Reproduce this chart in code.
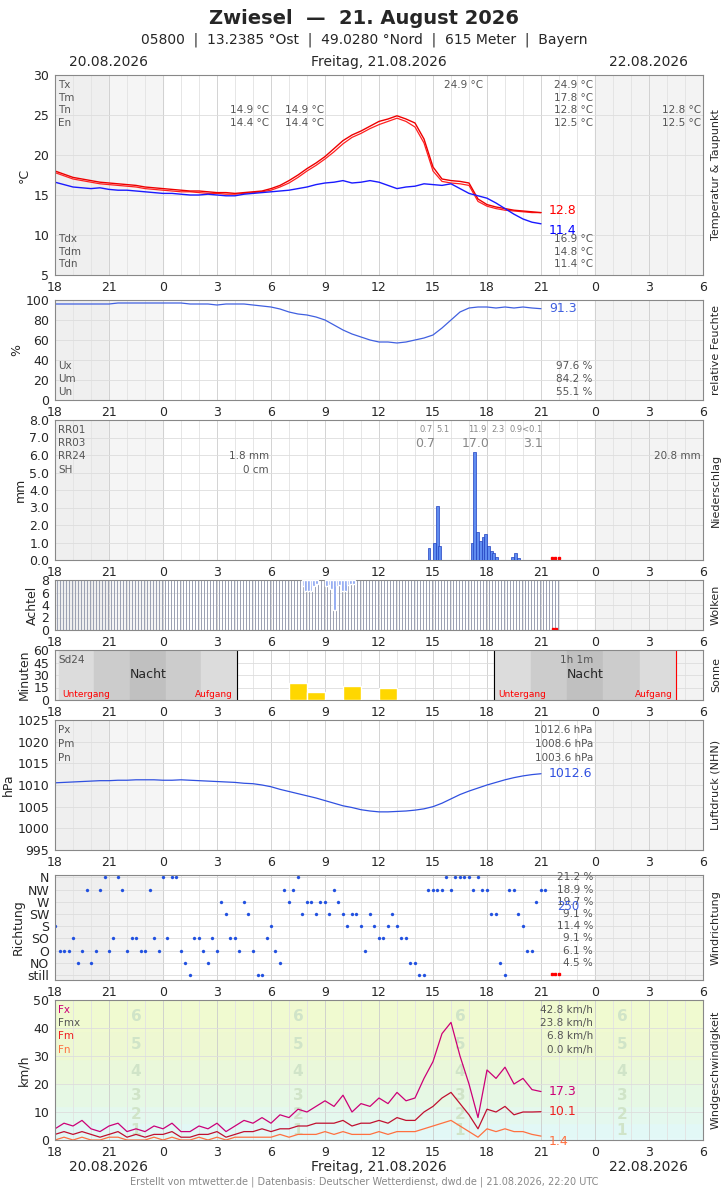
import numpy as np, pandas as pd, seaborn as sns, matplotlib
matplotlib.use("Agg")
import matplotlib.pyplot as plt

sns.set_style("white")
plt.rcParams['font.family'] = ['DejaVu Sans']

# ---------------- data (x = hours after 20.08. 18:00, 30-min steps) ----------------
temp_tx = [18.0,17.6,17.2,17.0,16.8,16.6,16.5,16.4,16.3,16.2,16.0,15.9,15.8,15.7,15.6,15.5,15.5,15.4,15.3,
           15.3,15.2,15.3,15.4,15.5,15.8,16.2,16.8,17.5,18.3,19.0,19.8,20.8,21.8,22.5,23.0,23.6,24.2,24.5,24.9,
           24.5,24.0,22.0,18.5,17.0,16.8,16.7,16.5,14.5,13.8,13.5,13.3,13.1,13.0,12.9,12.8]
temp_tm = [17.8,17.4,17.0,16.8,16.6,16.4,16.3,16.2,16.1,16.0,15.8,15.7,15.6,15.5,15.4,15.4,15.3,15.2,15.2,
           15.1,15.1,15.2,15.3,15.4,15.6,16.0,16.5,17.2,18.0,18.7,19.5,20.4,21.4,22.2,22.7,23.3,23.8,24.2,24.6,
           24.2,23.5,21.5,18.0,16.7,16.5,16.4,16.2,14.2,13.6,13.3,13.1,13.0,12.9,12.8,12.8]
dew = [16.6,16.3,16.0,15.9,15.8,15.9,15.7,15.6,15.6,15.5,15.4,15.3,15.2,15.2,15.1,15.0,15.0,15.1,15.0,14.9,
       14.9,15.1,15.2,15.3,15.4,15.5,15.6,15.8,16.0,16.3,16.5,16.6,16.8,16.5,16.6,16.8,16.6,16.2,15.8,16.0,
       16.1,16.4,16.3,16.2,16.4,15.8,15.2,14.9,14.6,14.0,13.3,12.6,12.0,11.6,11.4]
humidity = [96,96,96,96,96,96,96,97,97,97,97,97,97,97,97,96,96,96,95,96,96,96,95,94,93,91,88,86,85,83,80,
            75,70,66,63,60,58,58,57,58,60,62,65,72,80,88,92,93,93,92,93,92,93,92,91.3]
pressure = [1010.5,1010.6,1010.7,1010.8,1010.9,1011.0,1011.0,1011.1,1011.1,1011.2,1011.2,1011.2,1011.1,1011.1,
            1011.2,1011.1,1011.0,1010.9,1010.8,1010.7,1010.6,1010.4,1010.3,1010.0,1009.6,1009.0,1008.5,1008.0,
            1007.5,1007.0,1006.4,1005.8,1005.2,1004.8,1004.3,1004.0,1003.8,1003.8,1003.9,1004.0,1004.2,1004.5,
            1005.0,1005.8,1006.8,1007.8,1008.6,1009.3,1010.0,1010.6,1011.2,1011.7,1012.1,1012.4,1012.6]
wind_dir = [4,2,3,2,1,7,2,8,2,3,2,3,8,8,2,0,3,1,2,5,3,6,2,0,4,1,6,8,6,5,6,7,5,5,4,5,3,4,4,3,
            1,0,7,7,7,8,8,8,7,5,0,7,4,2,7]
wind_dir2 = [2,2,1,7,2,8,3,7,3,2,7,2,3,8,1,3,2,3,6,3,2,5,0,3,2,7,7,5,6,6,5,6,4,5,2,4,3,5,3,
             1,0,7,7,8,8,8,7,7,5,1,7,5,2,6,7]
gust = [4,6,5,7,4,3,5,6,3,4,3,5,4,6,3,3,5,4,6,3,5,7,6,8,6,9,8,11,10,12,14,12,16,10,13,12,15,13,17,14,
        15,22,28,38,42,30,20,8,25,22,26,20,22,18,17.3]
wind_mean = [2,3,2,3,2,1,2,3,1,2,1,2,2,3,1,1,2,2,3,1,2,3,3,4,3,4,4,5,5,6,6,6,7,5,6,6,7,6,8,7,
             7,10,12,15,17,13,9,4,11,10,12,9,10,10,10.1]
wind_min = [0,1,0,1,0,0,1,1,0,0,0,1,0,1,0,0,1,0,1,0,1,1,1,1,1,2,1,2,2,2,3,2,3,2,2,2,3,2,3,3,
            3,4,5,6,7,5,3,1,4,3,4,3,3,2,1.4]
precip_t = [20.7,21.0,21.15,21.3,23.1,23.25,23.4,23.55,23.7,23.85,24.0,24.15,24.3,24.45,25.35,25.5,25.65]
precip_v = [0.7,1.0,3.1,0.8,1.0,6.2,1.6,1.1,1.3,1.5,0.8,0.5,0.4,0.2,0.2,0.4,0.1]
cloud_t = [13.7,13.85,14.0,14.15,14.3,14.45,15.0,15.15,15.3,15.45,15.6,15.75,15.9,16.05,16.2,16.35,16.5]
cloud_v = [7,6.3,6.3,6.3,7,7.3,7,7.2,6.5,3.2,7,7.2,6.3,6.3,7.2,7.3,7.3]
sun_t = [13,14,16,18]
sun_v = [20,10,17,14]

xticklabels = ['18','21','0','3','6','9','12','15','18','21','0','3','6']
W, H = 728, 1190
FS = 9

fig = plt.figure(figsize=(W/100, H/100), dpi=100)

def mkax(top, bot):
    return fig.add_axes([55/W, 1-bot/H, 648/W, (bot-top)/H])

def style(ax, ylim, yticks, ylabel, rlabel, yfmt=None):
    ax.set_xlim(0, 36); ax.set_ylim(*ylim)
    ax.axvspan(0, 3, color='#efefef', zorder=0)
    ax.axvspan(3, 6, color='#f5f5f5', zorder=0)
    ax.axvspan(30, 36, color='#f3f3f3', zorder=0)
    for h in range(37):
        ax.axvline(h, color='#e2e2e2' if h % 3 else '#cccccc', lw=0.6, zorder=0.5)
    for yv in yticks:
        ax.axhline(yv, color='#dddddd', lw=0.6, zorder=0.5)
    ax.set_xticks(range(0, 37, 3)); ax.set_xticklabels(xticklabels, fontsize=FS)
    ax.set_yticks(yticks)
    if yfmt: ax.set_yticklabels([yfmt(v) for v in yticks], fontsize=FS)
    else: ax.tick_params(axis='y', labelsize=FS)
    ax.tick_params(axis='x', pad=1, length=3); ax.tick_params(axis='y', pad=1, length=3)
    ax.set_ylabel(ylabel, fontsize=FS, labelpad=2)
    ax.text(1.012, 0.5, rlabel, transform=ax.transAxes, rotation=90, ha='left', va='center', fontsize=8)
    for s in ax.spines.values(): s.set_color('#888888'); s.set_linewidth(0.8)

def line(ax, vals, color, lw=1.0):
    df = pd.DataFrame({'x': np.arange(len(vals))*0.5, 'y': vals})
    sns.lineplot(data=df, x='x', y='y', ax=ax, color=color, lw=lw, legend=False)
    ax.set_xlabel('')

def txt(ax, x, y, s, color='#555555', ha='left', fs=7.5):
    ax.text(x, y, s, transform=ax.transAxes, color=color, ha=ha, va='center', fontsize=fs)

# titles
fig.text(0.5, 1-18/H, 'Zwiesel  —  21. August 2026', ha='center', va='center', fontsize=14, weight='bold')
fig.text(0.5, 1-40/H, '05800  |  13.2385 °Ost  |  49.0280 °Nord  |  615 Meter  |  Bayern', ha='center', va='center', fontsize=10)
for yy in (62, 1167):
    fig.text(109/W, 1-yy/H, '20.08.2026', ha='center', va='center', fontsize=10)
    fig.text(379/W, 1-yy/H, 'Freitag, 21.08.2026', ha='center', va='center', fontsize=10)
    fig.text(649/W, 1-yy/H, '22.08.2026', ha='center', va='center', fontsize=10)
fig.text(364/W, 1-1182/H, 'Erstellt von mtwetter.de | Datenbasis: Deutscher Wetterdienst, dwd.de | 21.08.2026, 22:20 UTC',
         ha='center', va='center', fontsize=7, color='#888888')

# 1 temperature
ax = mkax(75, 275)
style(ax, (5, 30), [5,10,15,20,25,30], '°C', 'Temperatur & Taupunkt')
line(ax, temp_tm, '#ff2020', 0.9); line(ax, temp_tx, '#ee0000', 1.0); line(ax, dew, '#1a1aff', 1.0)
ax.set_ylabel('°C', fontsize=FS)
for i, s in enumerate(['Tx','Tm','Tn','En']): txt(ax, 0.005, 0.95-i*0.063, s)
for i, s in enumerate(['Tdx','Tdm','Tdn']): txt(ax, 0.005, 0.18-i*0.063, s)
txt(ax, 0.83, 0.95, '24.9 °C', ha='right'); txt(ax, 0.83, 0.887, '17.8 °C', ha='right')
txt(ax, 0.83, 0.824, '12.8 °C', ha='right'); txt(ax, 0.83, 0.761, '12.5 °C', ha='right')
txt(ax, 0.66, 0.95, '24.9 °C', ha='right')
txt(ax, 0.33, 0.824, '14.9 °C', ha='right'); txt(ax, 0.33, 0.761, '14.4 °C', ha='right')
txt(ax, 0.415, 0.824, '14.9 °C', ha='right'); txt(ax, 0.415, 0.761, '14.4 °C', ha='right')
txt(ax, 0.997, 0.824, '12.8 °C', ha='right'); txt(ax, 0.997, 0.761, '12.5 °C', ha='right')
txt(ax, 0.83, 0.18, '16.9 °C', ha='right'); txt(ax, 0.83, 0.117, '14.8 °C', ha='right'); txt(ax, 0.83, 0.054, '11.4 °C', ha='right')
ax.text(27.45, 13.0, '12.8', color='red', fontsize=FS, va='center')
ax.text(27.45, 10.5, '11.4', color='blue', fontsize=FS, va='center')

# 2 humidity
ax = mkax(300, 400)
style(ax, (0, 100), [0,20,40,60,80,100], '%', 'relative Feuchte')
line(ax, humidity, '#4060e0', 0.9)
for i, s in enumerate(['Ux','Um','Un']): txt(ax, 0.005, 0.34-i*0.13, s)
for i, s in enumerate(['97.6 %','84.2 %','55.1 %']): txt(ax, 0.83, 0.34-i*0.13, s, ha='right')
ax.text(27.45, 91.3, '91.3', color='#4060e0', fontsize=FS, va='center')

# 3 precipitation
ax = mkax(420, 560)
style(ax, (0, 8), [0,1,2,3,4,5,6,7,8], 'mm', 'Niederschlag', lambda v: f'{v:.1f}')
ax.bar(precip_t, precip_v, width=0.16, align='edge', color='#5f8cf0', edgecolor='#2040c0', lw=0.5, zorder=3)
for i, s in enumerate(['RR01','RR03','RR24','SH']): txt(ax, 0.005, 0.93-i*0.095, s)
txt(ax, 0.33, 0.74, '1.8 mm', ha='right'); txt(ax, 0.33, 0.645, '0 cm', ha='right'); txt(ax, 0.997, 0.74, '20.8 mm', ha='right')
for xx, s in [(0.562,'0.7'),(0.588,'5.1'),(0.638,'11.9'),(0.673,'2.3'),(0.701,'0.9<0.1')]:
    txt(ax, xx, 0.93, s, color='#888888', fs=6)
txt(ax, 0.556, 0.83, '0.7', color='#888888', fs=9); txt(ax, 0.628, 0.83, '17.0', color='#888888', fs=9)
txt(ax, 0.722, 0.83, '3.1', color='#888888', fs=9)
ax.plot([27.6, 27.8, 28.0], [0.1]*3, 's', color='red', ms=1.5)

# 4 clouds
ax = mkax(580, 630)
style(ax, (0, 8), [0,2,4,6,8], 'Achtel', 'Wolken')
ct = np.arange(0.1, 28.0, 1/6)
ax.vlines(ct, 0, 8, color='#9aa0b2', lw=0.7, zorder=2)
ax.bar(cloud_t, [8-v for v in cloud_v], bottom=cloud_v, width=0.15, align='edge', color='#7f9cf0', zorder=3)
ax.plot([27.65, 27.85], [0.2]*2, 's', color='red', ms=1.5)

# 5 sunshine
ax = mkax(650, 700)
style(ax, (0, 60), [0,15,30,45,60], 'Minuten', 'Sonne')
for a, b in [(0.2, 10.1), (24.4, 34.5)]:
    for k, c in enumerate(['#dcdcdc','#cccccc','#c0c0c0','#cccccc','#dcdcdc']):
        w = (b-a)/5
        ax.axvspan(a+k*w, a+(k+1)*w, color=c, zorder=1)
    ax.text((a+b)/2, 30, 'Nacht', ha='center', va='center', fontsize=FS)
    ax.text(a+0.2, 7, 'Untergang', color='red', fontsize=6.5, va='center')
    ax.text(b-0.2, 7, 'Aufgang', color='red', fontsize=6.5, va='center', ha='right')
ax.axvline(10.1, color='black', lw=0.8); ax.axvline(24.4, color='black', lw=0.8); ax.axvline(34.5, color='red', lw=0.8)
ax.bar(sun_t, sun_v, width=1, align='edge', color='#ffd700', zorder=3)
txt(ax, 0.005, 0.8, 'Sd24'); txt(ax, 0.83, 0.8, '1h 1m', ha='right')

# 6 pressure
ax = mkax(720, 850)
style(ax, (995, 1025), [995,1000,1005,1010,1015,1020,1025], 'hPa', 'Luftdruck (NHN)')
line(ax, pressure, '#3050e0', 0.9)
for i, s in enumerate(['Px','Pm','Pn']): txt(ax, 0.005, 0.92-i*0.105, s)
for i, s in enumerate(['1012.6 hPa','1008.6 hPa','1003.6 hPa']): txt(ax, 0.83, 0.92-i*0.105, s, ha='right')
ax.text(27.45, 1012.6, '1012.6', color='#3050e0', fontsize=FS, va='center')

# 7 wind direction
ax = mkax(875, 980)
dirs = ['still','NO','O','SO','S','SW','W','NW','N']
style(ax, (-0.4, 8.2), list(range(9)), 'Richtung', 'Windrichtung')
ax.set_yticklabels(dirs, fontsize=FS)
dfw = pd.DataFrame({'x': list(np.arange(len(wind_dir))*0.5) + list(np.arange(len(wind_dir2))*0.5+0.25),
                    'y': wind_dir + wind_dir2})
sns.scatterplot(data=dfw, x='x', y='y', ax=ax, color='#2050e0', s=5, edgecolor=None, legend=False)
ax.set_xlabel(''); ax.set_ylabel('Richtung', fontsize=FS)
for i, s in enumerate(['21.2 %','18.9 %','19.7 %','9.1 %','11.4 %','9.1 %','6.1 %','4.5 %']):
    ax.text(29.9, 8-i, s, ha='right', va='center', fontsize=7.5, color='#555555')
ax.text(27.9, 5.6, '250', color='#4060e0', fontsize=8.5, va='center')
ax.plot([27.6, 27.8, 28.0], [0.1]*3, 's', color='red', ms=1.5)

# 8 wind speed
ax = mkax(1000, 1140)
style(ax, (0, 50), [0,10,20,30,40,50], 'km/h', 'Windgeschwindigkeit')
bands = [(0,1,'#e6fafa'),(1,6,'#e2f8f6'),(6,12,'#e4f8ee'),(12,20,'#e6f8e4'),(20,29,'#eaf8da'),(29,39,'#eef8d2'),(39,50,'#f0fad0')]
for a, b, c in bands: ax.axhspan(a, b, color=c, zorder=0.3)
for xh in (4.5, 13.5, 22.5, 31.5):
    for n, yv in zip(range(1, 7), [3.5, 9, 16, 24.5, 34, 44]):
        ax.text(xh, yv, str(n), ha='center', va='center', fontsize=11, color='#d0e4c8', weight='bold', zorder=0.6)
line(ax, gust, '#cc0077', 0.9); line(ax, wind_mean, '#c01030', 0.9); line(ax, wind_min, '#ff7040', 0.9)
labs = [('Fx','#cc0077'),('Fmx','#555555'),('Fm','#ee2020'),('Fn','#ff7040')]
for i, (s, c) in enumerate(labs): txt(ax, 0.005, 0.93-i*0.095, s, color=c)
for i, s in enumerate(['42.8 km/h','23.8 km/h','6.8 km/h','0.0 km/h']): txt(ax, 0.83, 0.93-i*0.095, s, ha='right')
ax.text(27.45, 17.3, '17.3', color='#cc0077', fontsize=FS, va='center')
ax.text(27.45, 10.1, '10.1', color='#ee2020', fontsize=FS, va='center')
ax.text(27.45, -0.5, '1.4', color='#ff7040', fontsize=FS, va='center')

fig.savefig('out.png', dpi=100)
